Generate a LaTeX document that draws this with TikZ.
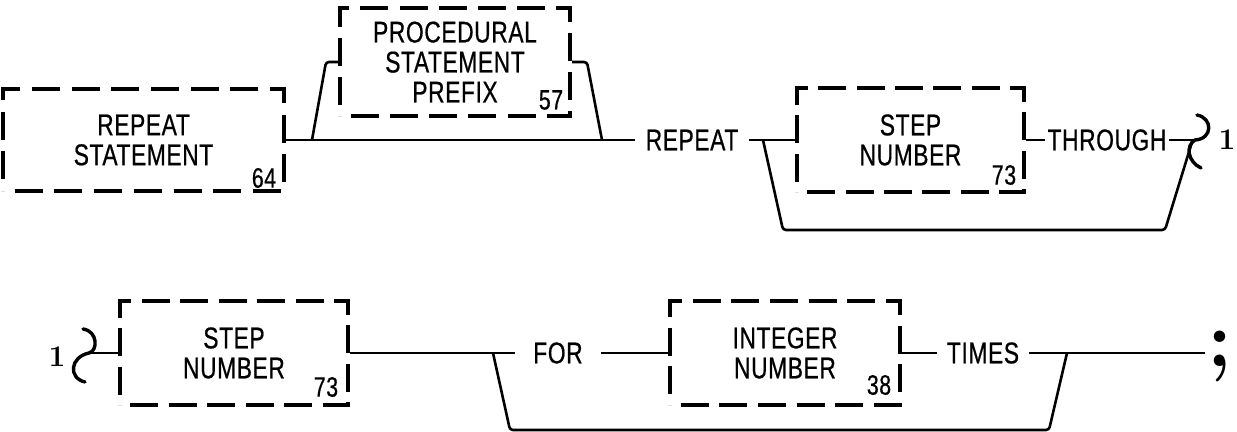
\documentclass[tikz,border=0pt]{standalone}
\usepackage{fontspec}
\newfontfamily\kwfont{Liberation Sans}[FakeStretch=0.76, LetterSpace=2, FakeBold=0.6]
\usetikzlibrary{positioning,calc,decorations}
\tikzset{
  synbox/.style={draw, line width=2pt, dash pattern=on 14pt off 5pt, dash expand off, align=center, inner sep=0pt, font=\kwfont\fontsize{15}{15}\selectfont},
  kw/.style={inner xsep=5pt, inner ysep=0pt, font=\kwfont\fontsize{15}{15}\selectfont},
  refnum/.style={inner sep=0pt, font=\kwfont\fontsize{14}{14}\selectfont},
  linknum/.style={inner sep=0pt, font=\fontsize{15}{15}\selectfont\bfseries},
  flow/.style={line width=1.3pt, rounded corners=1.5pt},
  linkmark/.style={line width=1.7pt, line cap=round},
}

\begin{document}
\begin{tikzpicture}[x=0.5pt, y=-0.5pt]
\useasboundingbox (0,0) rectangle (1237,432);
% first line
\node[synbox, minimum width=140.5pt, minimum height=51pt] (rptstmt) at (143.5,140) {REPEAT\\STATEMENT};
\node[synbox, minimum width=115pt, minimum height=54pt] (procpfx) at (455,62) {PROCEDURAL\\STATEMENT\\PREFIX};
\node[kw] (kwrepeat) at (692,140) {REPEAT};
\node[synbox, minimum width=113.5pt, minimum height=52pt] (stepnum) at (910.5,140) {STEP\\NUMBER};
\node[kw, inner xsep=1pt] (kwthrough) at (1107,140) {THROUGH};
\node[linknum] (lnkout) at (1227,140) {1};
\node[refnum] (n64) at ($(rptstmt.south east)+(-22,-15)$) {64};
\node[refnum] (n57) at ($(procpfx.south east)+(-21,-18)$) {57};
\node[refnum] (n73a) at ($(stepnum.south east)+(-22,-19)$) {73};
\coordinate (ps1) at (312,140);
\coordinate (ps2) at (326,62);
\coordinate (ps3) at (587,62);
\coordinate (ps4) at (602,140);
\coordinate (lp1) at (763,140);
\coordinate (lp2) at (783,230);
\coordinate (lp3) at (1165,230);
\coordinate (lp4) at (1192,142);
\coordinate (lk1) at (1195,140);
\draw[flow] (rptstmt.east) -- (kwrepeat.west);
\draw[flow] (ps1) -- (ps2) -- (procpfx.west);
\draw[flow] (procpfx.east) -- (ps3) -- (ps4);
\draw[flow] (kwrepeat.east) -- (stepnum.west);
\draw[flow] (lp1) -- (lp2) -- (lp3) -- (lp4);
\draw[flow] (stepnum.east) -- (kwthrough.west);
\draw[flow] (kwthrough.east) -- (lk1);
\draw[linkmark] (1197,115) .. controls (1213,118) and (1213,139) .. (lk1) .. controls (1185,146) and (1188,162) .. (1201,168);
% second line
\node[linknum] (lnkin) at (57,357) {1};
\node[synbox, minimum width=114pt, minimum height=52pt] (stepnum2) at (234,353) {STEP\\NUMBER};
\node[kw, inner xsep=9pt] (kwfor) at (558,353) {FOR};
\node[synbox, minimum width=115pt, minimum height=52pt] (intnum) at (785,353) {INTEGER\\NUMBER};
\node[kw] (kwtimes) at (983,353) {TIMES};
\node[inner sep=0pt, font=\fontsize{40}{40}\selectfont\bfseries] (semi) at (1220,357) {;};
\node[refnum] (n73b) at ($(stepnum2.south east)+(-24,-20)$) {73};
\node[refnum] (n38) at ($(intnum.south east)+(-23,-22)$) {38};
\coordinate (lk2) at (89,353);
\coordinate (lp5) at (493,353);
\coordinate (lp6) at (510,430);
\coordinate (lp7) at (1049,430);
\coordinate (lp8) at (1067,353);
\coordinate (endpt) at (1205,353);
\draw[linkmark] (83,329) .. controls (98,331) and (98,351) .. (lk2) .. controls (70,357) and (68,378) .. (85,382);
\draw[flow] (lk2) -- (stepnum2.west);
\draw[flow] (stepnum2.east) -- (kwfor.west);
\draw[flow] (lp5) -- (lp6) -- (lp7) -- (lp8);
\draw[flow] (kwfor.east) -- (intnum.west);
\draw[flow] (intnum.east) -- (kwtimes.west);
\draw[flow] (kwtimes.east) -- (endpt);
\end{tikzpicture}
\end{document}
